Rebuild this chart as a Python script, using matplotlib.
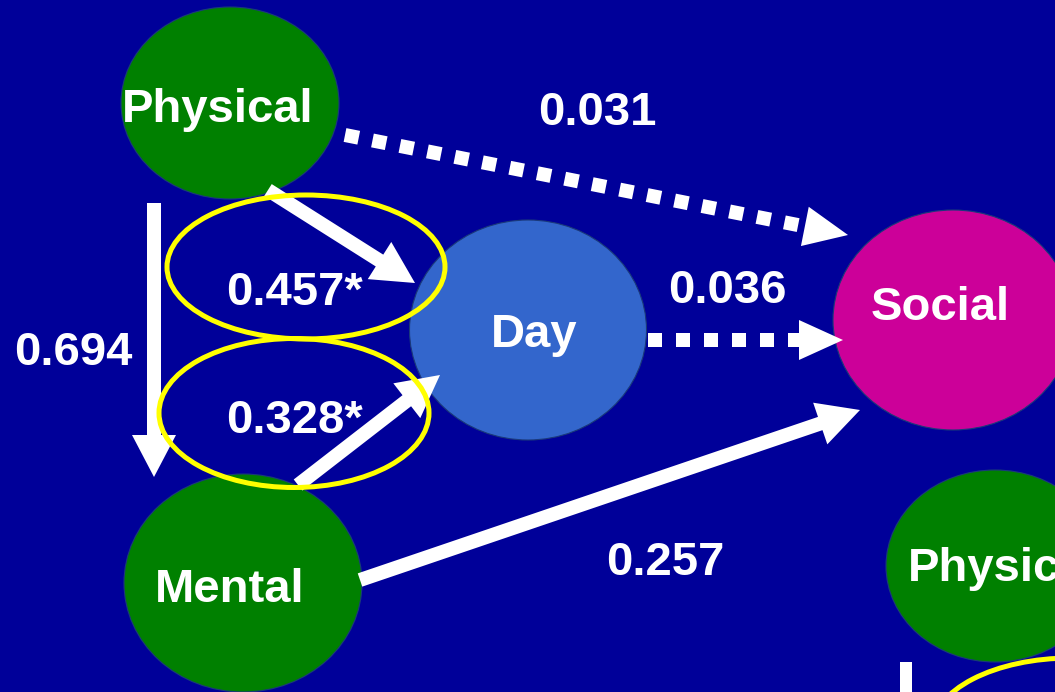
"""Path diagram: Physical / Mental -> Day -> Social, drawn in pixel coordinates."""
import numpy as np
import matplotlib.pyplot as plt
from matplotlib.patches import Ellipse, FancyArrow, Polygon

# ---------------------------------------------------------------------------
# data
# ---------------------------------------------------------------------------
node_names = ["Physical", "Mental", "Day", "Social", "Physical"]
node_colors = ["#008000", "#008000", "#3366cc", "#cc0099", "#008000"]

path_from = ["Physical", "Physical", "Mental", "Physical", "Day", "Mental"]
path_to = ["Mental", "Day", "Day", "Social", "Social", "Social"]
path_coef = ["0.694", "0.457*", "0.328*", "0.031", "0.036", "0.257"]
path_significant = [True, True, True, False, False, True]
path_circled = [False, True, True, False, False, False]

# ---------------------------------------------------------------------------
# layout (pixels, y down)
# ---------------------------------------------------------------------------
W, H = 1055, 692
BG = "#000099"
FS = 34

node_xy = [(230, 103), (243, 583), (528, 330), (953, 320), (995, 566)]
node_wh = [(218, 192), (238, 218), (237, 220), (240, 220), (218, 192)]
name_xy = [(218, 110), (230, 590), (534, 335), (940, 308), (908, 569)]
name_ha = ["center", "center", "center", "center", "left"]

# arrow start / tip for each path
path_xy = [((154, 203), (154, 477)),
           ((268, 190), (415, 283)),
           ((298, 485), (440, 375)),
           ((345, 135), (848, 235)),
           ((648, 340), (843, 340)),
           ((360, 580), (860, 410))]
coef_xy = [(73, 353), (295, 293), (295, 421), (597, 113), (727, 291), (665, 563)]
ring_xy = [None, (306, 267), (294, 413), None, None, None]
ring_wh = [None, (278, 144), (270, 149), None, None, None]

fig = plt.figure(figsize=(W / 100, H / 100), dpi=100, facecolor=BG)
ax = fig.add_axes([0, 0, 1, 1])
ax.set_facecolor(BG)
ax.set_xlim(0, W)
ax.set_ylim(H, 0)
ax.axis("off")

PT = 72 / 100  # points per pixel


def solid_arrow(p0, p1):
    (x0, y0), (x1, y1) = p0, p1
    ax.add_patch(FancyArrow(x0, y0, x1 - x0, y1 - y0, width=14, head_width=44,
                            head_length=42, length_includes_head=True,
                            color="white", lw=0, zorder=4))


def dotted_arrow(p0, p1, head_len=44, head_w=40):
    p0, p1 = np.array(p0, float), np.array(p1, float)
    d = (p1 - p0) / np.linalg.norm(p1 - p0)
    n = np.array([-d[1], d[0]])
    base = p1 - d * head_len
    ax.plot([p0[0], base[0]], [p0[1], base[1]], color="white", lw=14 * PT,
            dashes=(1, 1), dash_capstyle="butt", zorder=4)
    ax.add_patch(Polygon([p1, base + n * head_w / 2, base - n * head_w / 2],
                         closed=True, color="white", lw=0, zorder=4))


# nodes
for name, col, xy, wh, txy, ha in zip(node_names, node_colors, node_xy, node_wh,
                                      name_xy, name_ha):
    ax.add_patch(Ellipse(xy, wh[0], wh[1], facecolor=col, edgecolor="#1a3a7a",
                         lw=0.8, zorder=2))
    ax.text(*txy, name, color="white", fontsize=FS, fontweight="bold",
            family="Liberation Sans", ha=ha, va="center", zorder=6)

# paths
for sig, circ, pxy, cxy, coef, rxy, rwh in zip(path_significant, path_circled,
                                               path_xy, coef_xy, path_coef,
                                               ring_xy, ring_wh):
    if sig:
        solid_arrow(*pxy)
    else:
        dotted_arrow(*pxy)
    if circ:
        ax.add_patch(Ellipse(rxy, rwh[0], rwh[1], facecolor="none",
                             edgecolor="#ffff00", lw=5 * PT, zorder=5))
    ax.text(*cxy, coef, color="white", fontsize=FS, fontweight="bold",
            family="Liberation Sans", ha="center", va="center", zorder=6)

# next panel peeking in at the lower right
ax.add_patch(plt.Rectangle((900, 662), 12, 40, color="white", lw=0, zorder=4))
ax.add_patch(Ellipse((1071, 730), 278, 144, facecolor="none",
                     edgecolor="#ffff00", lw=5 * PT, zorder=5))

fig.savefig("out.png", dpi=100, facecolor=BG)
